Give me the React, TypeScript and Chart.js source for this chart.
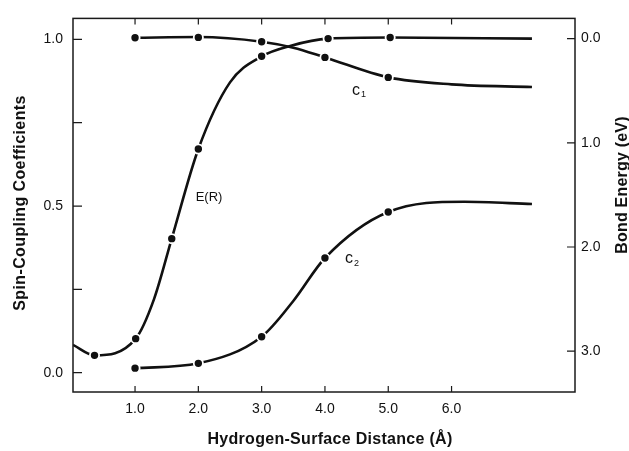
import React, { useEffect, useRef } from "react";
import { Chart, registerables } from "chart.js";

Chart.register(...registerables);

// ---- axis ticks ----
const xTicks = [1, 2, 3, 4, 5, 6];
const leftTicks = [0, 0.5, 1.0];
const leftMinorTicks = [0.25, 0.75];
const rightTicks = [0, 1, 2, 3];

// ---- c1 (left axis) ----
const c1MarkX = [1.0, 2.0, 3.0, 4.0, 5.0];
const c1MarkY = [1.005, 1.006, 0.993, 0.946, 0.886];
const c1CurveX = [1.0, 2.0, 3.0, 3.5, 4.0, 5.0, 6.0, 7.27];
const c1CurveY = [1.005, 1.007, 0.993, 0.975, 0.946, 0.886, 0.865, 0.857];

// ---- c2 (left axis) ----
const c2MarkX = [1.0, 2.0, 3.0, 4.0, 5.0];
const c2MarkY = [0.0136, 0.028, 0.108, 0.344, 0.482];
const c2CurveX = [1.0, 2.0, 3.0, 3.5, 4.0, 5.0, 6.2, 7.27];
const c2CurveY = [0.0136, 0.028, 0.108, 0.215, 0.344, 0.482, 0.513, 0.506];

// ---- E(R) bond energy (right axis, eV) ----
const eMarkX = [0.36, 1.01, 1.58, 2.0, 3.0, 4.05, 5.03];
const eMarkY = [3.04, 2.88, 1.92, 1.06, 0.17, 0.0, -0.01];
const eCurveX = [0.02, 0.36, 1.01, 1.3, 1.58, 2.0, 2.5, 3.0, 3.45, 4.05, 5.03, 7.27];
const eCurveY = [2.94, 3.04, 2.88, 2.5, 1.92, 1.06, 0.42, 0.17, 0.07, 0.0, -0.01, 0.0];

const FONT = "'Liberation Sans', Arial, Helvetica, sans-serif";
const INK = "#111111";

const pts = (xs: number[], ys: number[]) => xs.map((x, i) => ({ x, y: ys[i] }));

const decor = {
  id: "decor",
  afterDraw(chart: any) {
    const { ctx, chartArea: a, scales } = chart;
    const x = scales.x, yl = scales.y, yr = scales.y2;
    ctx.save();
    ctx.strokeStyle = "#1a1a1a";
    ctx.lineWidth = 1.5;
    ctx.strokeRect(a.left, a.top, a.right - a.left, a.bottom - a.top);
    ctx.lineWidth = 1.2;
    ctx.beginPath();
    xTicks.forEach((v) => {
      const px = x.getPixelForValue(v);
      ctx.moveTo(px, a.bottom); ctx.lineTo(px, a.bottom - 6);
      ctx.moveTo(px, a.top); ctx.lineTo(px, a.top + 6);
    });
    [...leftTicks, ...leftMinorTicks].forEach((v) => {
      const py = yl.getPixelForValue(v);
      ctx.moveTo(a.left, py); ctx.lineTo(a.left + 9, py);
    });
    rightTicks.forEach((v) => {
      const py = yr.getPixelForValue(v);
      ctx.moveTo(a.right, py); ctx.lineTo(a.right - 8, py);
    });
    ctx.stroke();

    ctx.fillStyle = INK;
    ctx.textAlign = "center";
    ctx.textBaseline = "alphabetic";
    // axis titles
    ctx.font = `bold 16px ${FONT}`;
    (ctx as any).letterSpacing = "0.3px";
    ctx.fillText("Hydrogen-Surface Distance (Å)", 330, 444);
    (ctx as any).letterSpacing = "0.4px";
    ctx.save();
    ctx.translate(25, 203);
    ctx.rotate(-Math.PI / 2);
    ctx.fillText("Spin-Coupling Coefficients", 0, 0);
    ctx.restore();
    (ctx as any).letterSpacing = "0.2px";
    ctx.save();
    ctx.translate(627, 185);
    ctx.rotate(-Math.PI / 2);
    ctx.fillText("Bond Energy (eV)", 0, 0);
    ctx.restore();
    (ctx as any).letterSpacing = "0px";

    // curve labels
    ctx.textBaseline = "middle";
    ctx.font = `13px ${FONT}`;
    ctx.fillText("E(R)", 209, 197);
    ctx.textAlign = "left";
    ctx.font = `16px ${FONT}`;
    ctx.fillText("c", 352, 91);
    ctx.fillText("c", 345, 259);
    ctx.font = `9px ${FONT}`;
    ctx.fillText("1", 361, 95);
    ctx.fillText("2", 354, 264);
    ctx.restore();
  },
};

const curve = (data: any[], axis: string) => ({
  data,
  yAxisID: axis,
  borderColor: INK,
  borderWidth: 2.6,
  pointRadius: 0,
  showLine: true,
  fill: false,
  cubicInterpolationMode: "monotone" as const,
  order: 2,
});

const marks = (data: any[], axis: string) => ({
  data,
  yAxisID: axis,
  showLine: false,
  pointRadius: 4.6,
  pointBackgroundColor: INK,
  pointBorderColor: "#ffffff",
  pointBorderWidth: 1.8,
  order: 1,
});

export default function App() {
  const ref = useRef<HTMLCanvasElement | null>(null);
  useEffect(() => {
    document.body.style.margin = "0";
    const canvas = ref.current;
    if (!canvas) return;
    const chart = new Chart(canvas, {
      type: "scatter",
      data: {
        datasets: [
          curve(pts(c1CurveX, c1CurveY), "y"),
          curve(pts(c2CurveX, c2CurveY), "y"),
          curve(pts(eCurveX, eCurveY), "y2"),
          marks(pts(c1MarkX, c1MarkY), "y"),
          marks(pts(c2MarkX, c2MarkY), "y"),
          marks(pts(eMarkX, eMarkY), "y2"),
        ] as any,
      },
      options: {
        responsive: false,
        animation: false,
        devicePixelRatio: 1,
        layout: { padding: { top: 13, left: 0, right: 0, bottom: 0 } },
        plugins: { legend: { display: false }, tooltip: { enabled: false } },
        scales: {
          x: {
            type: "linear",
            min: 0.02,
            max: 7.95,
            grid: { display: false, drawTicks: false },
            border: { display: false },
            afterBuildTicks: (s: any) => { s.ticks = xTicks.map((v) => ({ value: v })); },
            afterFit: (s: any) => { s.height = 59; },
            ticks: {
              padding: 9,
              color: INK,
              font: { family: FONT, size: 14 },
              maxRotation: 0,
              callback: (v: any) => Number(v).toFixed(1),
            },
          },
          y: {
            type: "linear",
            position: "left",
            min: -0.058,
            max: 1.063,
            grid: { display: false, drawTicks: false },
            border: { display: false },
            afterBuildTicks: (s: any) => { s.ticks = leftTicks.map((v) => ({ value: v })); },
            afterFit: (s: any) => { s.width = 73; },
            ticks: {
              padding: 10,
              color: INK,
              font: { family: FONT, size: 14 },
              callback: (v: any) => Number(v).toFixed(1),
            },
          },
          y2: {
            type: "linear",
            position: "right",
            reverse: true,
            min: -0.194,
            max: 3.392,
            grid: { display: false, drawTicks: false },
            border: { display: false },
            afterBuildTicks: (s: any) => { s.ticks = rightTicks.map((v) => ({ value: v })); },
            afterFit: (s: any) => { s.width = 54; },
            ticks: {
              padding: 6,
              color: INK,
              font: { family: FONT, size: 14 },
              callback: (v: any) => Number(v).toFixed(1),
            },
          },
        },
      } as any,
      plugins: [decor],
    });
    return () => chart.destroy();
  }, []);
  return (
    <div style={{ width: 629, height: 451 }}>
      <canvas ref={ref} width={629} height={451} />
    </div>
  );
}
